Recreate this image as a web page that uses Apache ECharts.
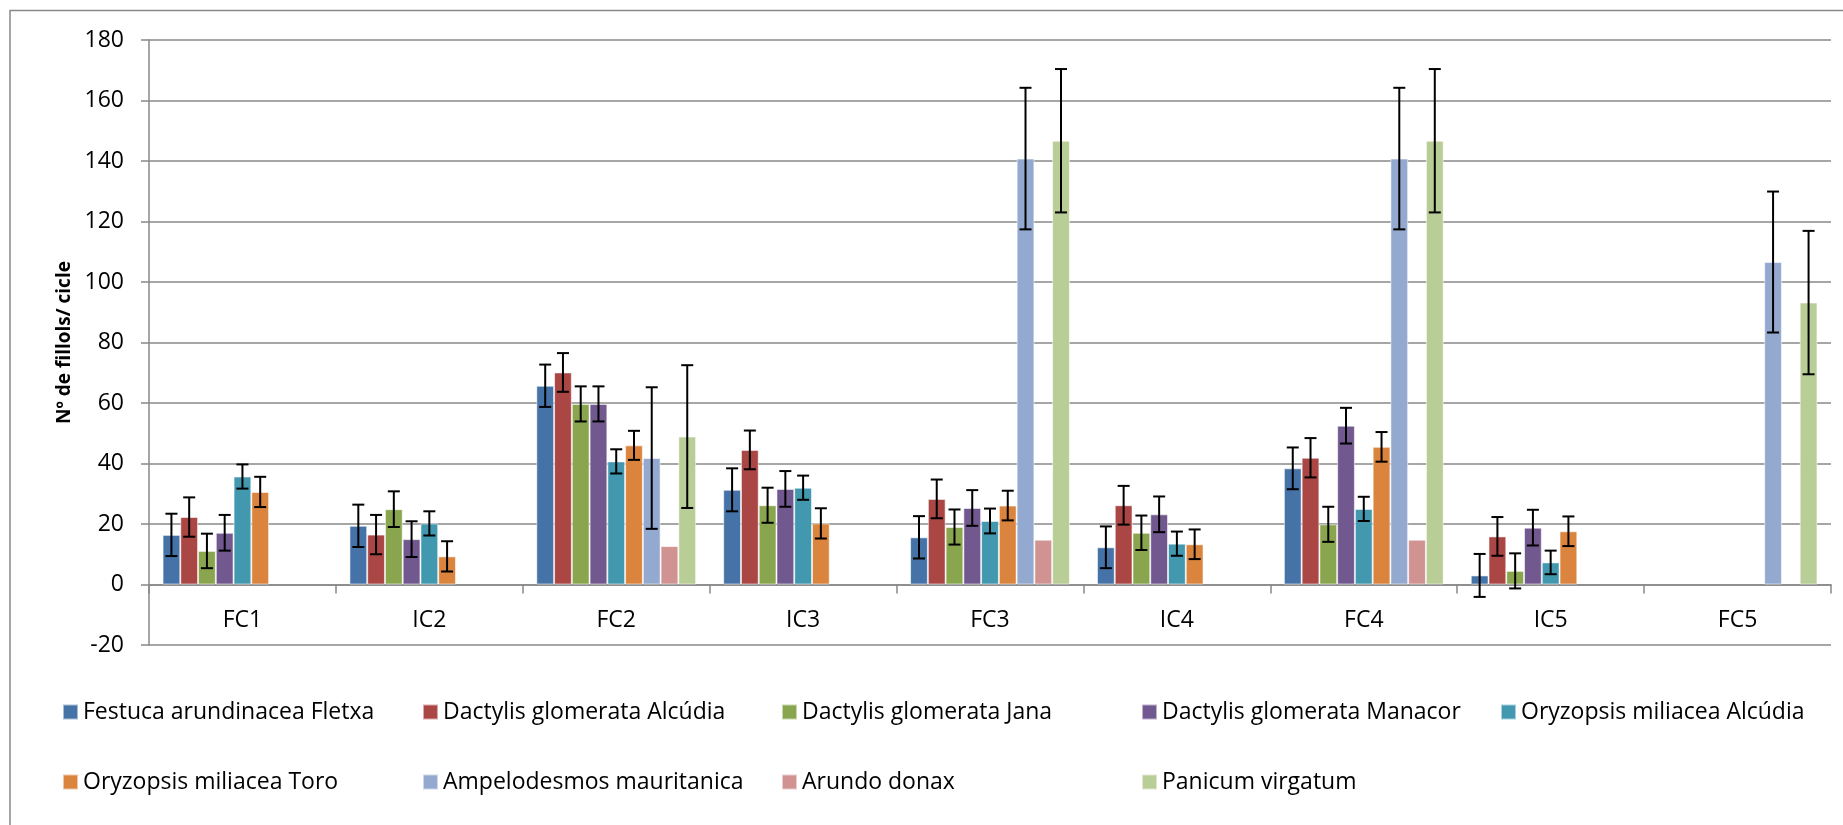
<!DOCTYPE html>
<html>
<head>
<meta charset="utf-8">
<script src="https://cdn.jsdelivr.net/npm/echarts@6/dist/echarts.min.js"></script>
<style>
  html, body { margin: 0; padding: 0; background: #fff; }
  #chart { width: 1843px; height: 825px; }
</style>
</head>
<body>
<div id="chart"></div>
<script>
const categories = ['FC1', 'IC2', 'FC2', 'IC3', 'FC3', 'IC4', 'FC4', 'IC5', 'FC5']
const yTicks = { min: -20, max: 180, interval: 20 }
const yTitle = 'Nº de fillols/ cicle'

const seriesNames = [
  'Festuca arundinacea Fletxa',
  'Dactylis glomerata Alcúdia',
  'Dactylis glomerata Jana',
  'Dactylis glomerata Manacor',
  'Oryzopsis miliacea Alcúdia',
  'Oryzopsis miliacea Toro',
  'Ampelodesmos mauritanica',
  'Arundo donax',
  'Panicum virgatum',
]

// mean values per category
const festuca = [16.4, 19.4, 65.7, 31.3, 15.6, 12.3, 38.4, 3.0, null]
const dactylisAlcudia = [22.3, 16.5, 70.1, 44.5, 28.3, 26.2, 41.9, 15.9, null]
const dactylisJana = [11.1, 24.9, 59.7, 26.2, 19.0, 17.1, 19.9, 4.5, null]
const dactylisManacor = [17.1, 15.0, 59.7, 31.6, 25.3, 23.2, 52.5, 18.8, null]
const oryzopsisAlcudia = [35.7, 20.2, 40.7, 32.0, 21.0, 13.5, 25.0, 7.3, null]
const oryzopsisToro = [30.6, 9.3, 46.0, 20.2, 26.1, 13.3, 45.5, 17.6, null]
const ampelodesmos = [null, null, 41.8, null, 140.8, null, 140.8, null, 106.6]
const arundo = [null, null, 12.7, null, 14.8, null, 14.8, null, null]
const panicum = [null, null, 48.9, null, 146.7, null, 146.7, null, 93.2]

// error (+/-) per category
const festucaErr = [7.0, 7.0, 7.0, 7.1, 7.0, 6.9, 6.9, 7.1, null]
const dactylisAlcudiaErr = [6.5, 6.5, 6.4, 6.4, 6.4, 6.4, 6.5, 6.4, null]
const dactylisJanaErr = [5.7, 5.9, 5.8, 5.8, 5.8, 5.7, 5.8, 5.8, null]
const dactylisManacorErr = [5.9, 5.9, 5.8, 5.9, 5.9, 5.9, 5.9, 5.9, null]
const oryzopsisAlcudiaErr = [4.0, 4.0, 4.0, 4.0, 4.1, 4.0, 4.0, 3.9, null]
const oryzopsisToroErr = [5.0, 5.0, 4.8, 5.0, 4.9, 4.9, 4.9, 4.9, null]
const ampelodesmosErr = [null, null, 23.4, null, 23.4, null, 23.4, null, 23.3]
const arundoErr = [null, null, null, null, null, null, null, null, null]
const panicumErr = [null, null, 23.6, null, 23.7, null, 23.7, null, 23.7]

const values = [festuca, dactylisAlcudia, dactylisJana, dactylisManacor, oryzopsisAlcudia,
  oryzopsisToro, ampelodesmos, arundo, panicum]
const errors = [festucaErr, dactylisAlcudiaErr, dactylisJanaErr, dactylisManacorErr,
  oryzopsisAlcudiaErr, oryzopsisToroErr, ampelodesmosErr, arundoErr, panicumErr]

const colors = ['#4572A7', '#AA4643', '#89A54E', '#71588F', '#4198AF',
  '#DB843D', '#93A9CF', '#D19392', '#B9CD96']

const FONT = '"Open Sans", "Liberation Sans", sans-serif'
const CAT_GAP = 0.145
const gridColor = '#888888'
const W = 1843
const H = 825
const gridBox = { left: 149, right: 12, top: 40, bottom: 180 }

// x axis sits on the value 0, not on the bottom of the grid
const plotH = H - gridBox.top - gridBox.bottom
const zeroOffset = plotH * (0 - yTicks.min) / (yTicks.max - yTicks.min)

// legend layout (Excel-style grid: 5 columns, 2 rows)
const legendCols = [62, 422, 781, 1141, 1500]
const legendRows = [697, 767]

const nSeries = seriesNames.length

const errorRender = (idx) => (params, api) => {
  const cat = api.value(0)
  const lo = api.coord([cat, api.value(1)])
  const hi = api.coord([cat, api.value(2)])
  const band = api.size([1, 0])[0]
  const barW = band * (1 - CAT_GAP) / nSeries
  const x = lo[0] + (idx - (nSeries - 1) / 2) * barW
  const cap = 6
  const style = { stroke: '#000', lineWidth: 2 }
  return {
    type: 'group',
    children: [
      { type: 'line', shape: { x1: x, y1: lo[1], x2: x, y2: hi[1] }, style },
      { type: 'line', shape: { x1: x - cap, y1: lo[1], x2: x + cap, y2: lo[1] }, style },
      { type: 'line', shape: { x1: x - cap, y1: hi[1], x2: x + cap, y2: hi[1] }, style },
    ],
  }
}

const barSeries = seriesNames.map((name, i) => ({
  name,
  type: 'bar',
  data: values[i],
  barGap: '0%',
  barCategoryGap: (CAT_GAP * 100) + '%',
  itemStyle: { color: colors[i], borderColor: 'rgba(255,255,255,0.55)', borderWidth: 1 },
  emphasis: { disabled: true },
}))

const errSeries = seriesNames.map((name, i) => ({
  name: 'err ' + name,
  type: 'custom',
  z: 5,
  renderItem: errorRender(i),
  data: values[i]
    .map((v, c) => (v == null || errors[i][c] == null ? null : [c, v - errors[i][c], v + errors[i][c]]))
    .filter((d) => d !== null),
  encode: { x: 0, y: [1, 2] },
  silent: true,
}))

const legends = seriesNames.map((name, i) => ({
  data: [name],
  left: legendCols[i % 5],
  top: legendRows[Math.floor(i / 5)],
  padding: 0,
  icon: 'rect',
  itemWidth: 15,
  itemHeight: 15,
  selectedMode: false,
  textStyle: { fontFamily: FONT, fontSize: 23, lineHeight: 30, color: '#000' },
}))

const chart = echarts.init(document.getElementById('chart'))
chart.setOption({
  animation: false,
  backgroundColor: '#fff',
  graphic: [{
    type: 'rect',
    shape: { x: 10, y: 10.5, width: 1900, height: 900 },
    style: { fill: 'none', stroke: '#888888', lineWidth: 1.5 },
    silent: true,
  }],
  legend: legends,
  grid: gridBox,
  xAxis: {
    type: 'category',
    data: categories,
    offset: -zeroOffset,
    axisLine: { onZero: false, lineStyle: { color: gridColor, width: 1.5 } },
    axisTick: { show: true, interval: 0, length: 9, lineStyle: { color: gridColor, width: 1.5 } },
    axisLabel: { color: '#000', fontFamily: FONT, fontSize: 23, margin: 24 },
  },
  yAxis: {
    type: 'value',
    min: yTicks.min,
    max: yTicks.max,
    interval: yTicks.interval,
    name: yTitle,
    nameLocation: 'middle',
    nameGap: 74,
    nameTextStyle: { fontFamily: FONT, fontSize: 19, fontWeight: 'bold', color: '#000' },
    axisLine: { show: true, lineStyle: { color: gridColor, width: 1.5 } },
    axisTick: { show: true, length: 8, lineStyle: { color: gridColor, width: 1.5 } },
    axisLabel: { color: '#000', fontFamily: FONT, fontSize: 23, margin: 25 },
    splitLine: { show: true, lineStyle: { color: gridColor, width: 1.5 } },
  },
  series: [...barSeries, ...errSeries],
})
</script>
</body>
</html>
